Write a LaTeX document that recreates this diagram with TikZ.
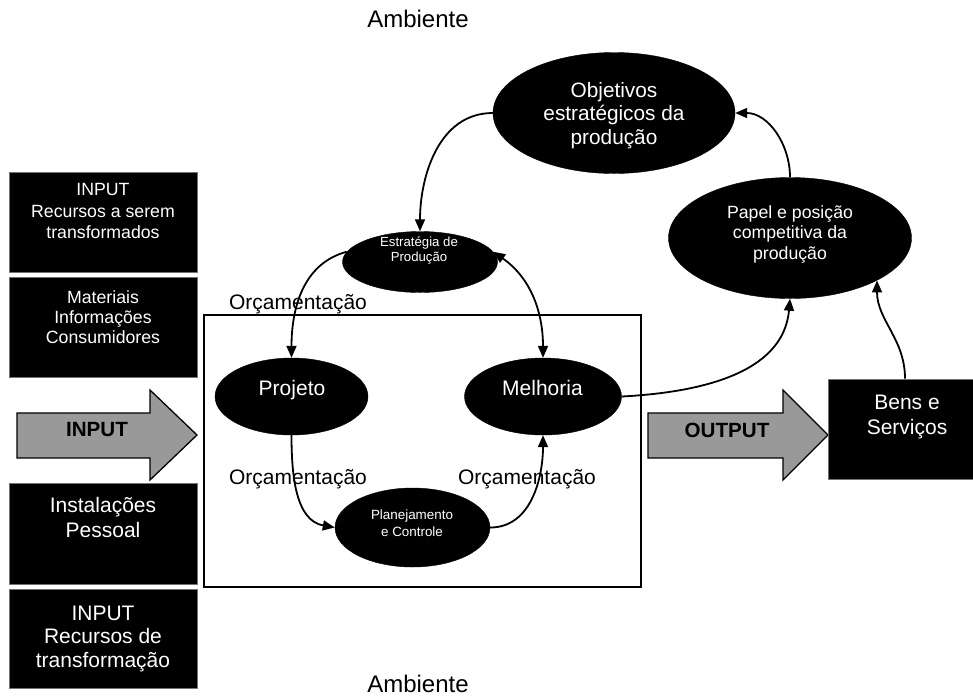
\documentclass[tikz,border=0pt]{standalone}
\usepackage{fontspec}
\setmainfont{Liberation Sans}
\usetikzlibrary{arrows.meta,shapes.geometric}
\newcommand\setfs[2]{\fontsize{#1}{#2}\selectfont}
\tikzset
{
  inbox/.style    = {rectangle, fill=black, draw=black!55, line width=0.8pt, minimum width=188pt, minimum height=100pt, inner sep=0pt},
  boxtext/.style  = {text=white, align=center, inner sep=0pt},
  oval/.style     = {ellipse, fill=black, draw=black, inner sep=0pt},
  ovaltext/.style = {text=white, align=center, inner sep=0pt},
  flow/.style     = {draw=black, line width=1.3pt, fill=black!40, line join=miter},
  link/.style     = {line width=1.8pt, -{Triangle[length=12pt,width=10pt]}},
  tag/.style      = {inner sep=0pt}
}

\begin{document}
\begin{tikzpicture}[x=1pt, y=-1pt]
  \useasboundingbox (0,0) rectangle (973,697);

  % environment
  \node[tag, font=\setfs{24}{28}] (ambtop) at (418,19) {Ambiente};
  \node[tag, font=\setfs{24}{28}] (ambbot) at (418,684) {Ambiente};

  % input column
  \node[inbox] (in1) at (103,222) {};
  \node[boxtext, font=\setfs{17.7}{21.5}] (in1txt) at (103,211) {INPUT\\Recursos a serem\\transformados};
  \node[inbox] (in2) at (103,327) {};
  \node[boxtext, font=\setfs{17.7}{20}] (in2txt) at (103,317.5) {Materiais\\Informações\\Consumidores};
  \node[inbox, minimum height=101pt] (in3) at (103,533.5) {};
  \node[boxtext, font=\setfs{21}{25}] (in3txt) at (103,517) {Instalações\\Pessoal};
  \node[inbox, minimum height=99pt] (in4) at (103,638.5) {};
  \node[boxtext, font=\setfs{21}{23.5}] (in4txt) at (103,638.5) {INPUT\\Recursos de\\transformação};

  % big arrows
  \draw[flow] (17,413) -- (150,413) -- (150,390) -- (197,435) -- (150,480) -- (150,458) -- (17,458) -- cycle;
  \node[tag, font=\bfseries\setfs{20.6}{24}] (inlbl) at (97,430) {INPUT};
  \draw[flow] (648,413) -- (783,413) -- (783,390) -- (828,435) -- (783,480) -- (783,458) -- (648,458) -- cycle;
  \node[tag, font=\bfseries\setfs{20.6}{24}] (outlbl) at (727,430) {OUTPUT};

  % production
  \node[draw, line width=1.5pt, minimum width=437pt, minimum height=272pt, inner sep=0pt] (prod) at (422.5,451) {};

  \node[inbox, minimum width=154pt] (bens) at (905,429) {};
  \node[boxtext, font=\setfs{21}{25}] (benstxt) at (907,416.5) {Bens e\\Serviços};

  % ellipses
  \node[oval, minimum width=242pt, minimum height=121pt] (objv) at (614,113) {};
  \node[ovaltext, font=\setfs{20.8}{23.5}] (objvtxt) at (614,115.5) {Objetivos\\estratégicos da\\produção};
  \node[oval, minimum width=243pt, minimum height=121pt] (papel) at (790,238) {};
  \node[ovaltext, font=\setfs{17.7}{20.5}] (papeltxt) at (790,234) {Papel e posição\\competitiva da\\produção};
  \node[oval, minimum width=155pt, minimum height=61pt] (estr) at (420,262) {};
  \node[ovaltext, font=\setfs{13.2}{15}] (estrtxt) at (419,251) {Estratégia de\\Produção};
  \node[oval, minimum width=153pt, minimum height=77pt] (proj) at (291.5,396.5) {};
  \node[ovaltext, font=\setfs{21}{25}] (projtxt) at (292,390) {Projeto};
  \node[oval, minimum width=157pt, minimum height=77pt] (melh) at (543,396.5) {};
  \node[ovaltext, font=\setfs{21}{25}] (melhtxt) at (542.5,388) {Melhoria};
  \node[oval, minimum width=155pt, minimum height=79pt] (plan) at (412.5,527.5) {};
  \node[ovaltext, font=\setfs{13.4}{17}] (plantxt) at (412,523) {Planejamento\\e Controle};

  % budget labels
  \node[tag, font=\setfs{21}{25}] (orc1) at (298,304) {Orçamentação};
  \node[tag, font=\setfs{21}{25}] (orc2) at (298,479) {Orçamentação};
  \node[tag, font=\setfs{21}{25}] (orc3) at (527,479) {Orçamentação};

  % links
  \draw[link] (objv.west) to[out=180,in=90] (estr.north);
  \draw[link] (estr.172) to[out=195,in=90] (proj.north);
  \draw[link, {Triangle[length=12pt,width=10pt]}-{Triangle[length=12pt,width=10pt]}] (estr.8) to[out=-35,in=90] (melh.north);
  \draw[link] (proj.south) to[out=-90,in=170] (plan.west);
  \draw[link] (plan.east) to[out=0,in=-90] (melh.south);
  \draw[link] (melh.east) to[out=3,in=-95] (papel.south);
  \draw[link] (papel.north) to[out=90,in=0] (objv.east);
  \draw[link] (bens.north) to[out=90,in=-90] (papel.-26);
\end{tikzpicture}
\end{document}
